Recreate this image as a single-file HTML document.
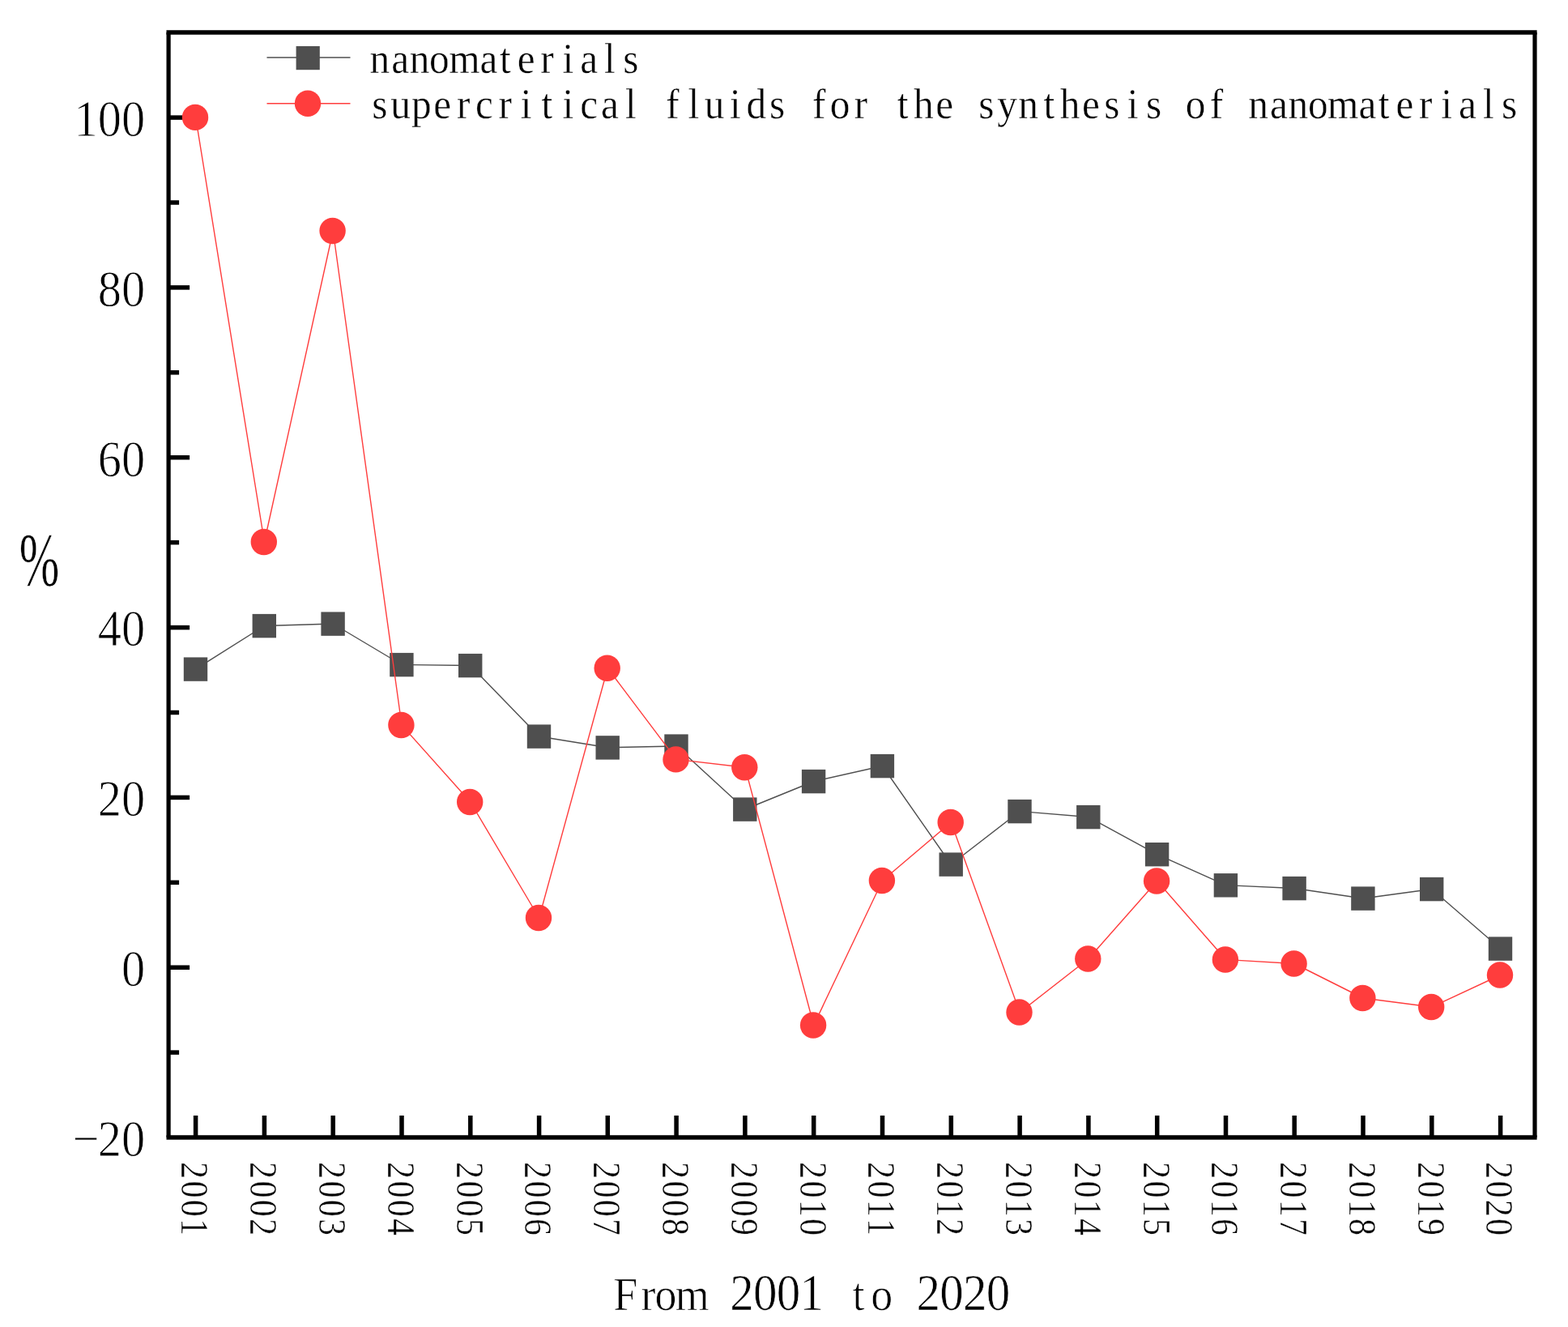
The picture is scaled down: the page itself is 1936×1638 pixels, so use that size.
<!DOCTYPE html>
<html lang="en"><head><meta charset="utf-8"><title>Chart</title>
<style>html,body{margin:0;padding:0;background:#fff;}body{width:1936px;height:1638px;overflow:hidden;}svg{display:block;}text{font-family:"Liberation Serif", serif;fill:#000;}</style>
</head><body>
<svg width="1936" height="1638" viewBox="0 0 1936 1638">
<rect x="0" y="0" width="1936" height="1638" fill="#fff"/>
<g stroke="#000" stroke-width="5.5" fill="none" stroke-linecap="butt">
<line x1="205.50" y1="40.00" x2="1897.60" y2="40.00" stroke-width="5.5"/>
<line x1="205.50" y1="1404.00" x2="1897.60" y2="1404.00" stroke-width="5.5"/>
<line x1="208.10" y1="40.00" x2="208.10" y2="1404.00" stroke-width="5.2"/>
<line x1="1895.00" y1="40.00" x2="1895.00" y2="1404.00" stroke-width="5.2"/>
<line x1="208.1" y1="1299.1" x2="221.1" y2="1299.1" stroke-width="5.5"/>
<line x1="208.1" y1="1194.2" x2="234.1" y2="1194.2" stroke-width="5.5"/>
<line x1="208.1" y1="1089.3" x2="221.1" y2="1089.3" stroke-width="5.5"/>
<line x1="208.1" y1="984.4" x2="234.1" y2="984.4" stroke-width="5.5"/>
<line x1="208.1" y1="879.5" x2="221.1" y2="879.5" stroke-width="5.5"/>
<line x1="208.1" y1="774.6" x2="234.1" y2="774.6" stroke-width="5.5"/>
<line x1="208.1" y1="669.6" x2="221.1" y2="669.6" stroke-width="5.5"/>
<line x1="208.1" y1="564.7" x2="234.1" y2="564.7" stroke-width="5.5"/>
<line x1="208.1" y1="459.8" x2="221.1" y2="459.8" stroke-width="5.5"/>
<line x1="208.1" y1="354.9" x2="234.1" y2="354.9" stroke-width="5.5"/>
<line x1="208.1" y1="250.0" x2="221.1" y2="250.0" stroke-width="5.5"/>
<line x1="208.1" y1="145.1" x2="234.1" y2="145.1" stroke-width="5.5"/>
<line x1="241.6" y1="1404.0" x2="241.6" y2="1377.0" stroke-width="5.5"/>
<line x1="326.4" y1="1404.0" x2="326.4" y2="1377.0" stroke-width="5.5"/>
<line x1="411.2" y1="1404.0" x2="411.2" y2="1377.0" stroke-width="5.5"/>
<line x1="496.0" y1="1404.0" x2="496.0" y2="1377.0" stroke-width="5.5"/>
<line x1="580.8" y1="1404.0" x2="580.8" y2="1377.0" stroke-width="5.5"/>
<line x1="665.6" y1="1404.0" x2="665.6" y2="1377.0" stroke-width="5.5"/>
<line x1="750.3" y1="1404.0" x2="750.3" y2="1377.0" stroke-width="5.5"/>
<line x1="835.1" y1="1404.0" x2="835.1" y2="1377.0" stroke-width="5.5"/>
<line x1="919.9" y1="1404.0" x2="919.9" y2="1377.0" stroke-width="5.5"/>
<line x1="1004.7" y1="1404.0" x2="1004.7" y2="1377.0" stroke-width="5.5"/>
<line x1="1089.5" y1="1404.0" x2="1089.5" y2="1377.0" stroke-width="5.5"/>
<line x1="1174.3" y1="1404.0" x2="1174.3" y2="1377.0" stroke-width="5.5"/>
<line x1="1259.1" y1="1404.0" x2="1259.1" y2="1377.0" stroke-width="5.5"/>
<line x1="1343.9" y1="1404.0" x2="1343.9" y2="1377.0" stroke-width="5.5"/>
<line x1="1428.7" y1="1404.0" x2="1428.7" y2="1377.0" stroke-width="5.5"/>
<line x1="1513.5" y1="1404.0" x2="1513.5" y2="1377.0" stroke-width="5.5"/>
<line x1="1598.2" y1="1404.0" x2="1598.2" y2="1377.0" stroke-width="5.5"/>
<line x1="1683.0" y1="1404.0" x2="1683.0" y2="1377.0" stroke-width="5.5"/>
<line x1="1767.8" y1="1404.0" x2="1767.8" y2="1377.0" stroke-width="5.5"/>
<line x1="1852.6" y1="1404.0" x2="1852.6" y2="1377.0" stroke-width="5.5"/>
</g>
<polyline points="241.6,826.0 326.4,772.5 411.2,770.0 496.0,820.5 580.8,821.5 665.6,909.0 750.3,922.8 835.1,921.0 919.9,999.0 1004.7,964.5 1089.5,945.5 1174.3,1067.0 1259.1,1001.5 1343.9,1008.5 1428.7,1054.6 1513.5,1092.7 1598.2,1096.5 1683.0,1109.0 1767.8,1097.5 1852.6,1171.0" fill="none" stroke="#4f4f4f" stroke-width="1.4" stroke-linejoin="round"/>
<rect x="226.8" y="811.4" width="29.4" height="29.4" fill="#4f4f4f"/>
<rect x="311.6" y="757.9" width="29.4" height="29.4" fill="#4f4f4f"/>
<rect x="396.4" y="755.4" width="29.4" height="29.4" fill="#4f4f4f"/>
<rect x="481.2" y="805.9" width="29.4" height="29.4" fill="#4f4f4f"/>
<rect x="566.0" y="806.9" width="29.4" height="29.4" fill="#4f4f4f"/>
<rect x="650.8" y="894.4" width="29.4" height="29.4" fill="#4f4f4f"/>
<rect x="735.5" y="908.2" width="29.4" height="29.4" fill="#4f4f4f"/>
<rect x="820.3" y="906.4" width="29.4" height="29.4" fill="#4f4f4f"/>
<rect x="905.1" y="984.4" width="29.4" height="29.4" fill="#4f4f4f"/>
<rect x="989.9" y="949.9" width="29.4" height="29.4" fill="#4f4f4f"/>
<rect x="1074.7" y="930.9" width="29.4" height="29.4" fill="#4f4f4f"/>
<rect x="1159.5" y="1052.4" width="29.4" height="29.4" fill="#4f4f4f"/>
<rect x="1244.3" y="986.9" width="29.4" height="29.4" fill="#4f4f4f"/>
<rect x="1329.1" y="993.9" width="29.4" height="29.4" fill="#4f4f4f"/>
<rect x="1413.9" y="1040.0" width="29.4" height="29.4" fill="#4f4f4f"/>
<rect x="1498.7" y="1078.1" width="29.4" height="29.4" fill="#4f4f4f"/>
<rect x="1583.4" y="1081.9" width="29.4" height="29.4" fill="#4f4f4f"/>
<rect x="1668.2" y="1094.4" width="29.4" height="29.4" fill="#4f4f4f"/>
<rect x="1753.0" y="1082.9" width="29.4" height="29.4" fill="#4f4f4f"/>
<rect x="1837.8" y="1156.4" width="29.4" height="29.4" fill="#4f4f4f"/>
<polyline points="241.6,144.9 326.4,669.0 411.2,285.0 496.0,895.0 580.8,990.0 665.6,1133.0 750.3,824.8 835.1,937.4 919.9,947.2 1004.7,1265.5 1089.5,1087.0 1174.3,1015.0 1259.1,1249.5 1343.9,1183.5 1428.7,1087.5 1513.5,1184.5 1598.2,1189.5 1683.0,1232.0 1767.8,1243.0 1852.6,1203.5" fill="none" stroke="#ff3d3d" stroke-width="1.4" stroke-linejoin="round"/>
<circle cx="241.0" cy="144.9" r="16.2" fill="#ff3d3d"/>
<circle cx="325.8" cy="669.0" r="16.2" fill="#ff3d3d"/>
<circle cx="410.6" cy="285.0" r="16.2" fill="#ff3d3d"/>
<circle cx="495.4" cy="895.0" r="16.2" fill="#ff3d3d"/>
<circle cx="580.2" cy="990.0" r="16.2" fill="#ff3d3d"/>
<circle cx="665.0" cy="1133.0" r="16.2" fill="#ff3d3d"/>
<circle cx="749.7" cy="824.8" r="16.2" fill="#ff3d3d"/>
<circle cx="834.5" cy="937.4" r="16.2" fill="#ff3d3d"/>
<circle cx="919.3" cy="947.2" r="16.2" fill="#ff3d3d"/>
<circle cx="1004.1" cy="1265.5" r="16.2" fill="#ff3d3d"/>
<circle cx="1088.9" cy="1087.0" r="16.2" fill="#ff3d3d"/>
<circle cx="1173.7" cy="1015.0" r="16.2" fill="#ff3d3d"/>
<circle cx="1258.5" cy="1249.5" r="16.2" fill="#ff3d3d"/>
<circle cx="1343.3" cy="1183.5" r="16.2" fill="#ff3d3d"/>
<circle cx="1428.1" cy="1087.5" r="16.2" fill="#ff3d3d"/>
<circle cx="1512.9" cy="1184.5" r="16.2" fill="#ff3d3d"/>
<circle cx="1597.6" cy="1189.5" r="16.2" fill="#ff3d3d"/>
<circle cx="1682.4" cy="1232.0" r="16.2" fill="#ff3d3d"/>
<circle cx="1767.2" cy="1243.0" r="16.2" fill="#ff3d3d"/>
<circle cx="1852.0" cy="1203.5" r="16.2" fill="#ff3d3d"/>
<text transform="scale(0.9200,1.0000)" x="115.33 147.17 179.02" y="1426.80" font-size="63.50" text-anchor="middle" stroke="#fff" stroke-width="0.87">−20</text>
<text transform="scale(0.9200,1.0000)" x="179.02" y="1216.98" font-size="63.50" text-anchor="middle" stroke="#fff" stroke-width="0.87">0</text>
<text transform="scale(0.9200,1.0000)" x="147.17 179.02" y="1007.17" font-size="63.50" text-anchor="middle" stroke="#fff" stroke-width="0.87">20</text>
<text transform="scale(0.9200,1.0000)" x="147.17 179.02" y="797.35" font-size="63.50" text-anchor="middle" stroke="#fff" stroke-width="0.87">40</text>
<text transform="scale(0.9200,1.0000)" x="147.17 179.02" y="587.53" font-size="63.50" text-anchor="middle" stroke="#fff" stroke-width="0.87">60</text>
<text transform="scale(0.9200,1.0000)" x="147.17 179.02" y="377.72" font-size="63.50" text-anchor="middle" stroke="#fff" stroke-width="0.87">80</text>
<text transform="scale(0.9200,1.0000)" x="115.33 147.17 179.02" y="167.90" font-size="63.50" text-anchor="middle" stroke="#fff" stroke-width="0.87">100</text>
<g transform="translate(224.4,1444.7) rotate(90)">
<text transform="scale(0.8700,1.0000)" x="0.00 26.78 53.56 80.34" y="0.00" font-size="47.60" text-anchor="middle" stroke="#fff" stroke-width="0.40">2001</text>
</g>
<g transform="translate(309.2,1444.7) rotate(90)">
<text transform="scale(0.8700,1.0000)" x="0.00 26.78 53.56 80.34" y="0.00" font-size="47.60" text-anchor="middle" stroke="#fff" stroke-width="0.40">2002</text>
</g>
<g transform="translate(394.0,1444.7) rotate(90)">
<text transform="scale(0.8700,1.0000)" x="0.00 26.78 53.56 80.34" y="0.00" font-size="47.60" text-anchor="middle" stroke="#fff" stroke-width="0.40">2003</text>
</g>
<g transform="translate(478.8,1444.7) rotate(90)">
<text transform="scale(0.8700,1.0000)" x="0.00 26.78 53.56 80.34" y="0.00" font-size="47.60" text-anchor="middle" stroke="#fff" stroke-width="0.40">2004</text>
</g>
<g transform="translate(563.6,1444.7) rotate(90)">
<text transform="scale(0.8700,1.0000)" x="0.00 26.78 53.56 80.34" y="0.00" font-size="47.60" text-anchor="middle" stroke="#fff" stroke-width="0.40">2005</text>
</g>
<g transform="translate(648.4,1444.7) rotate(90)">
<text transform="scale(0.8700,1.0000)" x="0.00 26.78 53.56 80.34" y="0.00" font-size="47.60" text-anchor="middle" stroke="#fff" stroke-width="0.40">2006</text>
</g>
<g transform="translate(733.1,1444.7) rotate(90)">
<text transform="scale(0.8700,1.0000)" x="0.00 26.78 53.56 80.34" y="0.00" font-size="47.60" text-anchor="middle" stroke="#fff" stroke-width="0.40">2007</text>
</g>
<g transform="translate(817.9,1444.7) rotate(90)">
<text transform="scale(0.8700,1.0000)" x="0.00 26.78 53.56 80.34" y="0.00" font-size="47.60" text-anchor="middle" stroke="#fff" stroke-width="0.40">2008</text>
</g>
<g transform="translate(902.7,1444.7) rotate(90)">
<text transform="scale(0.8700,1.0000)" x="0.00 26.78 53.56 80.34" y="0.00" font-size="47.60" text-anchor="middle" stroke="#fff" stroke-width="0.40">2009</text>
</g>
<g transform="translate(987.5,1444.7) rotate(90)">
<text transform="scale(0.8700,1.0000)" x="0.00 26.78 53.56 80.34" y="0.00" font-size="47.60" text-anchor="middle" stroke="#fff" stroke-width="0.40">2010</text>
</g>
<g transform="translate(1072.3,1444.7) rotate(90)">
<text transform="scale(0.8700,1.0000)" x="0.00 26.78 53.56 80.34" y="0.00" font-size="47.60" text-anchor="middle" stroke="#fff" stroke-width="0.40">2011</text>
</g>
<g transform="translate(1157.1,1444.7) rotate(90)">
<text transform="scale(0.8700,1.0000)" x="0.00 26.78 53.56 80.34" y="0.00" font-size="47.60" text-anchor="middle" stroke="#fff" stroke-width="0.40">2012</text>
</g>
<g transform="translate(1241.9,1444.7) rotate(90)">
<text transform="scale(0.8700,1.0000)" x="0.00 26.78 53.56 80.34" y="0.00" font-size="47.60" text-anchor="middle" stroke="#fff" stroke-width="0.40">2013</text>
</g>
<g transform="translate(1326.7,1444.7) rotate(90)">
<text transform="scale(0.8700,1.0000)" x="0.00 26.78 53.56 80.34" y="0.00" font-size="47.60" text-anchor="middle" stroke="#fff" stroke-width="0.40">2014</text>
</g>
<g transform="translate(1411.5,1444.7) rotate(90)">
<text transform="scale(0.8700,1.0000)" x="0.00 26.78 53.56 80.34" y="0.00" font-size="47.60" text-anchor="middle" stroke="#fff" stroke-width="0.40">2015</text>
</g>
<g transform="translate(1496.2,1444.7) rotate(90)">
<text transform="scale(0.8700,1.0000)" x="0.00 26.78 53.56 80.34" y="0.00" font-size="47.60" text-anchor="middle" stroke="#fff" stroke-width="0.40">2016</text>
</g>
<g transform="translate(1581.0,1444.7) rotate(90)">
<text transform="scale(0.8700,1.0000)" x="0.00 26.78 53.56 80.34" y="0.00" font-size="47.60" text-anchor="middle" stroke="#fff" stroke-width="0.40">2017</text>
</g>
<g transform="translate(1665.8,1444.7) rotate(90)">
<text transform="scale(0.8700,1.0000)" x="0.00 26.78 53.56 80.34" y="0.00" font-size="47.60" text-anchor="middle" stroke="#fff" stroke-width="0.40">2018</text>
</g>
<g transform="translate(1750.6,1444.7) rotate(90)">
<text transform="scale(0.8700,1.0000)" x="0.00 26.78 53.56 80.34" y="0.00" font-size="47.60" text-anchor="middle" stroke="#fff" stroke-width="0.40">2019</text>
</g>
<g transform="translate(1835.4,1444.7) rotate(90)">
<text transform="scale(0.8700,1.0000)" x="0.00 26.78 53.56 80.34" y="0.00" font-size="47.60" text-anchor="middle" stroke="#fff" stroke-width="0.40">2020</text>
</g>
<text transform="scale(0.9300,1.0000)" y="1617.00" font-size="63.50" text-anchor="middle" xml:space="preserve" stroke="#fff" stroke-width="0.75"><tspan x="830.43 860.67 883.82 919.18 954.13" font-size="58.00">From </tspan><tspan x="985.05 1015.98 1046.90 1077.83 1108.75" font-size="63.50">2001 </tspan><tspan x="1139.68 1170.60 1201.53" font-size="58.00">to </tspan><tspan x="1232.45 1263.38 1294.30 1325.23" font-size="63.50">2020</tspan></text>
<text transform="translate(48.5,721.6) scale(0.645,1)" x="0" y="0" font-size="92.2" text-anchor="middle" stroke="#fff" stroke-width="0.6">%</text>
<line x1="329.5" y1="71" x2="432.5" y2="71" stroke="#4f4f4f" stroke-width="1.4"/>
<rect x="365.6" y="57.0" width="29.2" height="29.2" fill="#4f4f4f"/>
<line x1="329.5" y1="127.7" x2="432.5" y2="127.7" stroke="#ff3d3d" stroke-width="1.4"/>
<circle cx="380" cy="127.7" r="16.2" fill="#ff3d3d"/>
<text transform="scale(0.9400,1.0000)" x="498.72 525.64 551.03 577.05 610.06 642.01 663.60 691.07 718.55 746.03 773.51 800.99 828.47" y="89.90" font-size="52.50" text-anchor="middle" stroke="#fff" stroke-width="0.43">nanomaterials</text>
<text transform="scale(0.9400,1.0000)" x="498.72 526.20 553.68 581.16 608.64 636.12 663.60 691.07 718.55 746.03 773.51 800.99 828.47 855.95 883.43 910.90 938.38 965.86 993.34 1020.82 1048.30 1075.78 1103.26 1130.73 1158.21 1185.69 1213.17 1240.65 1268.13 1295.61 1323.09 1350.56 1378.04 1405.52 1433.00 1460.48 1487.96 1515.44 1542.91 1570.39 1597.87 1625.35 1652.83 1679.75 1705.14 1731.16 1764.16 1796.12 1817.70 1845.18 1872.66 1900.14 1927.62 1955.10 1982.57" y="145.90" font-size="52.50" text-anchor="middle" stroke="#fff" stroke-width="0.43">supercritical fluids for the synthesis of nanomaterials</text>
</svg>
</body></html>
